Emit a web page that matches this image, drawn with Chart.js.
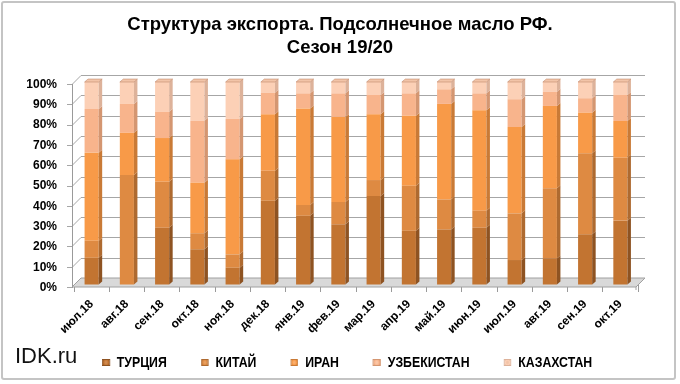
<!DOCTYPE html>
<html><head><meta charset="utf-8">
<script src="https://cdn.jsdelivr.net/npm/chart.js@4"></script>
<style>
html,body{margin:0;padding:0;background:#fff;}
#wrap{position:relative;width:680px;height:384px;overflow:hidden;background:#fff;}
#frame{position:absolute;left:1px;top:1px;width:675px;height:379px;border:2px solid #c4c4c4;border-radius:3px;box-sizing:border-box;}
#c{position:absolute;left:0;top:0;}
#title{position:absolute;left:0;width:680px;top:12px;text-align:center;font:bold 18.5px "Liberation Sans",Arial,sans-serif;line-height:23px;color:#000;}
#idk{position:absolute;left:15px;top:343px;font:22px "Liberation Sans",Arial,sans-serif;color:#111;}
#legend{position:absolute;left:102px;top:353px;display:flex;gap:41.5px;font:bold 15px "Liberation Sans",Arial,sans-serif;line-height:18px;color:#000;transform:scaleX(0.82);transform-origin:0 0;white-space:nowrap;}
#legend .it{display:flex;align-items:center;}
#legend .mk{width:9.5px;height:7px;margin-right:8.5px;box-sizing:border-box;}
</style></head>
<body><div id="wrap">
<canvas id="c" width="680" height="384"></canvas>
<div id="frame"></div>
<div id="title">Структура экспорта. Подсолнечное масло РФ.<br>Сезон 19/20</div>
<div id="idk">IDK.ru</div>
<div id="legend"></div>
</div>
<script>
const labels = ['июл.18','авг.18','сен.18','окт.18','ноя.18','дек.18','янв.19','фев.19','мар.19','апр.19','май.19','июн.19','июл.19','авг.19','сен.19','окт.19'];
const seriesNames = ['ТУРЦИЯ','КИТАЙ','ИРАН','УЗБЕКИСТАН','КАЗАХСТАН'];
const turkey = [13.4, 0, 28.2, 17.6, 8.5, 41.5, 34.1, 29.9, 43.8, 26.7, 27.4, 28.2, 12.3, 13.1, 25.0, 31.7];
const china  = [8.4, 54.2, 22.7, 7.9, 6.6, 14.8, 5.3, 11.0, 7.9, 22.2, 14.8, 8.4, 23.0, 34.5, 39.9, 31.0];
const iran   = [43.4, 20.8, 21.5, 24.9, 46.8, 27.8, 47.6, 41.9, 32.4, 34.5, 47.0, 49.5, 42.5, 40.6, 20.0, 18.1];
const uzbek  = [21.5, 14.2, 13.0, 30.5, 19.9, 10.6, 7.4, 11.6, 9.5, 11.0, 7.2, 8.3, 13.7, 7.0, 7.1, 12.8];
const kazakh = [13.3, 10.8, 14.6, 19.1, 18.2, 5.3, 5.6, 5.6, 6.4, 5.6, 3.6, 5.6, 8.5, 4.8, 8.0, 6.4];
const yTicks = [0,10,20,30,40,50,60,70,80,90,100];

const front = ['#C27431','#DE8A42','#F89A48','#F8B48C','#FCD0B6'];
const sideC = ['#8E5322','#AE6A30','#C97A36','#D49671','#DDB29A'];
const topC  = ['#D08A50','#E8A060','#FAB070','#FAC6A6','#F2C4A8'];

// 3D offsets: front (axis) and back (wall) relative to bar plane
const FX = -2, FY = 2, WX = 7, WY = -7;
const bx = 3.5, by = 3; // bar depth

const wall = {
  id:'wall',
  beforeDatasetsDraw(chart){
    const {ctx, chartArea:a, scales:{y}} = chart;
    ctx.save();
    ctx.lineWidth = 1;
    const b = y.getPixelForValue(0);
    // wall grid lines + diagonals + ticks
    ctx.strokeStyle = '#A6A6A6';
    yTicks.forEach(v=>{
      const p = Math.round(y.getPixelForValue(v))+0.5;
      ctx.beginPath();
      ctx.moveTo(a.left+FX-5, p+FY);
      ctx.lineTo(a.left+FX, p+FY);
      ctx.lineTo(a.left+WX, p+WY);
      if (v>0) ctx.lineTo(a.right+WX, p+WY);
      ctx.stroke();
    });
    // floor
    ctx.beginPath();
    ctx.moveTo(a.left+FX, b+FY); ctx.lineTo(a.right+FX, b+FY); ctx.lineTo(a.right+WX, b+WY); ctx.lineTo(a.left+WX, b+WY); ctx.closePath();
    ctx.fillStyle = '#D9D9D9'; ctx.fill();
    ctx.strokeStyle = '#A0A0A0'; ctx.stroke();
    ctx.beginPath();
    ctx.moveTo(a.right+FX, b+FY); ctx.lineTo(a.right+FX, b+FY+3);
    ctx.stroke();
    // axis line
    const t = Math.round(y.getPixelForValue(100));
    ctx.beginPath();
    ctx.moveTo(a.left+FX+0.5, t+FY); ctx.lineTo(a.left+FX+0.5, b+FY+1);
    ctx.strokeStyle = '#9A9A9A'; ctx.stroke();
    ctx.restore();
  },
  afterDatasetsDraw(chart){
    const {ctx} = chart;
    ctx.save();
    const n = chart.data.datasets.length;
    for (let i=0;i<n;i++){
      const meta = chart.getDatasetMeta(i);
      meta.data.forEach((el)=>{
        const p = el.getProps(['x','y','base','width'], true);
        if (Math.abs(p.base - p.y) < 0.5) return;
        const r = p.x + p.width/2;
        ctx.beginPath();
        ctx.moveTo(r, p.y); ctx.lineTo(r+bx, p.y-by); ctx.lineTo(r+bx, p.base-by); ctx.lineTo(r, p.base); ctx.closePath();
        ctx.fillStyle = sideC[i]; ctx.fill();
        if (i === n-1){
          const l = p.x - p.width/2;
          ctx.beginPath();
          ctx.moveTo(l, p.y); ctx.lineTo(l+bx, p.y-by); ctx.lineTo(r+bx, p.y-by); ctx.lineTo(r, p.y); ctx.closePath();
          ctx.fillStyle = topC[i]; ctx.fill();
          ctx.strokeStyle = 'rgba(180,120,90,0.6)'; ctx.lineWidth = 0.8; ctx.stroke();
        }
      });
    }
    ctx.restore();
  }
};

const series = [turkey, china, iran, uzbek, kazakh];
const datasets = series.map((d,i)=>({
  label: seriesNames[i], data: d, backgroundColor: front[i], borderWidth: 0,
  barPercentage: 0.4, categoryPercentage: 1.0
}));

new Chart(document.getElementById('c'), {
  type:'bar',
  data:{labels, datasets},
  plugins:[wall],
  options:{
    responsive:false, animation:false,
    layout:{padding:{top:82, left:0, right:42, bottom:39}},
    plugins:{legend:{display:false}, title:{display:false}, tooltip:{enabled:false}},
    scales:{
      x:{stacked:true,
         afterFit(s){ s.height = 60; },
         grid:{drawOnChartArea:false, drawTicks:true, tickLength:7, color:'#9A9A9A'},
         border:{display:false},
         ticks:{maxRotation:45, minRotation:45, autoSkip:false, color:'#000', padding:5,
                font:{family:'"Liberation Sans", Arial, sans-serif', size:12, weight:'bold'}}},
      y:{stacked:true, min:0, max:100,
         afterFit(s){ s.width = 74; },
         afterBuildTicks(s){ s.ticks = yTicks.map(v=>({value:v})); },
         grid:{drawOnChartArea:false, drawTicks:false},
         border:{display:false},
         ticks:{color:'#000', padding:17, labelOffset:2.5, callback:v=>v+'%',
                font:{family:'"Liberation Sans", Arial, sans-serif', size:12, weight:'bold'}}}
    }
  }
});

const lg = document.getElementById('legend');
seriesNames.forEach((nm,i)=>{
  const it = document.createElement('div'); it.className='it';
  const mk = document.createElement('span'); mk.className='mk';
  mk.style.background = 'radial-gradient(circle,'+topC[i]+' 20%,'+front[i]+' 60%,'+sideC[i]+')';
  mk.style.border = '1px solid '+sideC[i];
  const tx = document.createElement('span'); tx.textContent = nm;
  it.appendChild(mk); it.appendChild(tx); lg.appendChild(it);
});
</script>
</body></html>
